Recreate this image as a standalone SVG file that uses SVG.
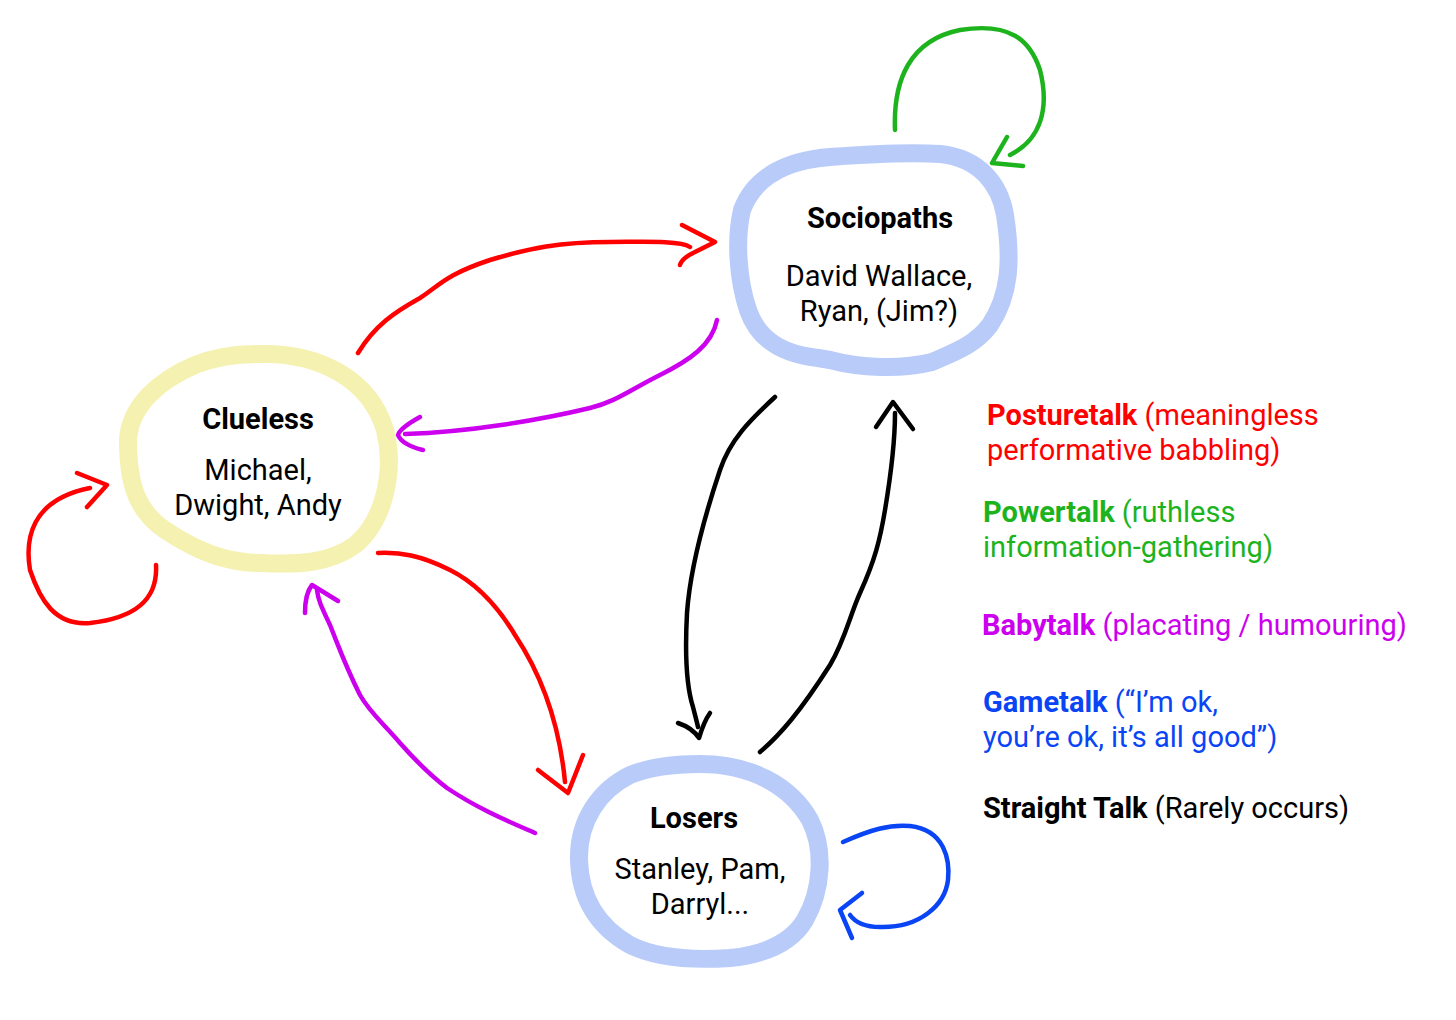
<svg xmlns="http://www.w3.org/2000/svg" width="1456" height="1020" viewBox="0 0 1456 1020">
<style>
.blob{fill:none;stroke-width:18;stroke-linejoin:round;stroke-linecap:round}
.c{fill:none;stroke-width:4.5;stroke-linecap:round;stroke-linejoin:round}
text{font-family:Roboto,"Liberation Sans",sans-serif;font-size:29px}
.t{font-weight:bold;text-anchor:middle;fill:#000}
.n{text-anchor:middle;fill:#000}
.b{font-weight:bold}
</style>
<rect width="1456" height="1020" fill="#fff"/>
<g id="connectors">
 <path class="c" stroke="#ff0000" d="M358,353 C375,325 395,312 420,298 C440,285 445,275 490,260 C530,248 560,242 610,242 C640,242 680,240 690,247"/>
 <path class="c" stroke="#ff0000" d="M682,225 L715,242 L695,252 Q682,258 680,265"/>
 <path class="c" stroke="#ff0000" d="M378,553 C400,552 420,555 450,570 C480,585 500,610 515,635 C545,680 560,730 565,782"/>
 <path class="c" stroke="#ff0000" d="M538,770 L568,793 L583,755"/>
 <path class="c" stroke="#ff0000" d="M156,565 C158,600 135,618 90,623 C55,626 40,600 30,570 C25,540 30,500 90,488"/>
 <path class="c" stroke="#ff0000" d="M77,473 L107,485 L87,507"/>
 <path class="c" stroke="#cc00ee" d="M717,320 C712,345 690,360 660,375 C630,390 615,402 590,408 C540,420 470,432 405,434"/>
 <path class="c" stroke="#cc00ee" d="M420,417 Q400,428 398,435 Q402,445 423,450"/>
 <path class="c" stroke="#cc00ee" d="M535,833 C510,822 480,810 447,788 C430,775 415,760 400,743 C385,725 370,713 360,695 C345,665 340,650 330,625 C322,608 318,600 317,590"/>
 <path class="c" stroke="#cc00ee" d="M305,613 C305,600 308,590 312,585 L338,601"/>
 <path class="c" stroke="#1db31d" d="M895,130 C893,80 910,40 960,30 C1010,22 1030,40 1040,70 C1050,110 1040,140 1010,155"/>
 <path class="c" stroke="#1db31d" d="M1007,137 L992,163 L1023,166"/>
 <path class="c" stroke="#0a45f5" d="M843,842 C870,830 890,824 910,826 C945,830 950,860 948,880 C945,905 920,928 880,927 C865,927 855,922 850,915"/>
 <path class="c" stroke="#0a45f5" d="M862,893 L840,910 L852,938"/>
 <path class="c" stroke="#000" d="M775,397 C750,420 730,440 720,470 C705,515 690,570 687,613 C685,650 686,685 693,707 C695,715 697,722 698,727"/>
 <path class="c" stroke="#000" d="M678,723 C690,727 695,732 699,738 C702,728 705,720 710,713"/>
 <path class="c" stroke="#000" d="M760,752 C780,735 800,712 830,665 C845,640 850,615 860,593 C875,560 880,540 885,510 C890,480 895,440 895,413"/>
 <path class="c" stroke="#000" d="M876,427 L893,402 L913,429"/>
</g>
<g id="sociopaths">
 <path class="blob" stroke="#b9ccf9" d="M830,157 C870,154 910,152 940,154 C980,158 1000,185 1005,215 C1012,260 1010,295 990,325 C975,345 955,352 932,362 C900,370 860,368 830,360 L818,358 C790,355 760,345 748,310 C738,280 735,240 742,210 C755,175 790,160 830,157 Z"/>
 <text class="t" x="880" y="228">Sociopaths</text>
 <text class="n" x="879" y="286">David Wallace,</text>
 <text class="n" x="879" y="321">Ryan, (Jim?)</text>
</g>
<g id="clueless">
 <path class="blob" stroke="#f5f1b1" d="M258,354 C320,352 370,380 385,430 C395,470 385,520 355,545 C330,563 300,565 260,563 C225,563 195,550 165,530 C135,510 128,480 128,440 C130,405 160,380 195,365 C215,357 235,354 258,354 Z"/>
 <text class="t" x="258" y="429">Clueless</text>
 <text class="n" x="258" y="480">Michael,</text>
 <text class="n" x="258" y="515">Dwight, Andy</text>
</g>
<g id="losers">
 <path class="blob" stroke="#b9ccf9" d="M700,764 C750,764 790,785 810,820 C825,850 822,890 805,920 C790,945 760,955 730,958 C700,960 660,960 630,945 C595,925 580,895 579,860 C578,820 600,790 630,775 C655,765 680,764 700,764 Z"/>
 <text class="t" x="694" y="828">Losers</text>
 <text class="n" x="700" y="879">Stanley, Pam,</text>
 <text class="n" x="700" y="914">Darryl...</text>
</g>
<g id="legend">
 <text x="987" y="425" fill="#ff0000"><tspan class="b">Posturetalk</tspan> (meaningless</text>
 <text x="987" y="460" fill="#ff0000">performative babbling)</text>
 <text x="983" y="522" fill="#1db31d"><tspan class="b">Powertalk</tspan> (ruthless</text>
 <text x="983" y="557" fill="#1db31d">information-gathering)</text>
 <text x="982" y="635" fill="#cc00ee"><tspan class="b">Babytalk</tspan> (placating / humouring)</text>
 <text x="983" y="712" fill="#0a45f5"><tspan class="b">Gametalk</tspan> (“I’m ok,</text>
 <text x="983" y="747" fill="#0a45f5">you’re ok, it’s all good”)</text>
 <text x="983" y="818" fill="#000"><tspan class="b">Straight Talk</tspan> (Rarely occurs)</text>
</g>
</svg>
